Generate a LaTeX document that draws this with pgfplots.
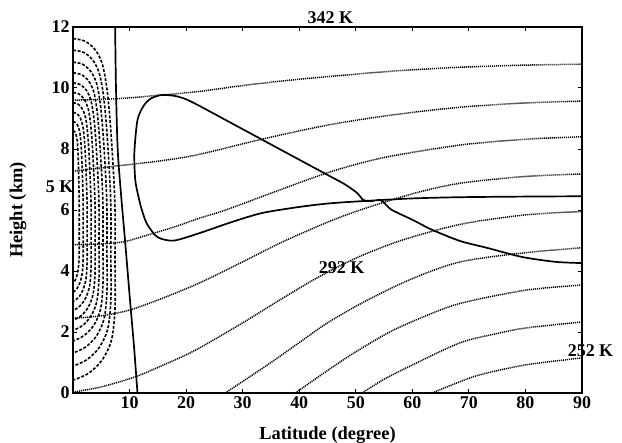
\documentclass[border=0pt]{standalone}
\usepackage{fontspec}
\setmainfont{Liberation Serif}
\usepackage{pgfplots}
\pgfplotsset{compat=1.18}
\begin{document}
\begin{tikzpicture}
\begin{axis}[
 name=ax,
 scale only axis, width=509bp, height=366bp,
 xmin=0,xmax=90,ymin=0,ymax=12,
 xtick={10,20,...,90}, ytick={0,2,...,12},
 /pgf/number format/assume math mode=true,
 tick label style={font=\fontsize{18}{21}\selectfont\bfseries},
 label style={font=\fontsize{18.5}{22}\selectfont\bfseries},
 xlabel={Latitude (degree)}, ylabel={Height (km)},
 x label style={at={(axis description cs:0.5,-0.116)},anchor=center},
 y label style={at={(axis description cs:-0.108,0.5)},anchor=center},
 axis line style={line width=1.4pt},
 major tick length=4bp,
 tick style={line width=1pt, black},
 clip=false,
 dotline/.style={black, line width=1.5pt, dash pattern=on 1.1pt off 0.9pt, smooth},
 dashline/.style={black, line width=1.6pt, dash pattern=on 3pt off 1.7pt, smooth},
 solidline/.style={black, line width=1.7pt, smooth},
]
% isentropes (dotted)
\addplot[dotline] coordinates {(0,9.60) (8,9.65) (15,9.76) (22,9.88) (30,10.08) (38,10.25) (45.5,10.38) (57,10.56) (68.5,10.68) (80,10.75) (90,10.78)};
\addplot[dotline] coordinates {(0,7.27) (8,7.45) (15,7.60) (22,7.81) (33.6,8.33) (45.5,8.80) (57,9.13) (68.5,9.37) (80,9.51) (90,9.57)};
\addplot[dotline] coordinates {(0,4.86) (5,4.89) (9,4.96) (13.2,5.18) (18,5.45) (22.5,5.74) (27,6.0) (35,6.55) (45.5,7.25) (55,7.72) (68.5,8.13) (80,8.32) (90,8.40)};
\addplot[dotline] coordinates {(0,2.45) (5,2.53) (10,2.72) (16,3.12) (22.5,3.62) (30,4.3) (37,4.95) (45,5.6) (50,5.95) (54.8,6.24) (61,6.58) (68.5,6.88) (80,7.1) (90,7.18)};
\addplot[dotline] coordinates {(0,0.03) (5,0.2) (11,0.53) (16,0.92) (21.6,1.4) (30,2.3) (37,3.1) (43.4,3.8) (50,4.42) (58,5.0) (68.5,5.53) (80,5.84) (90,5.95)};
\addplot[dotline] coordinates {(26.9,0) (31,0.5) (35,1.0) (40,1.65) (45,2.3) (52,3.04) (60,3.75) (68.5,4.3) (80,4.6) (90,4.76)};
\addplot[dotline] coordinates {(39.3,0) (45.5,0.8) (50,1.35) (56,2.0) (62,2.5) (68.5,2.94) (80,3.37) (90,3.54)};
\addplot[dotline] coordinates {(51.1,0) (55,0.45) (60,0.92) (68.5,1.65) (75,1.95) (80,2.13) (90,2.33)};
\addplot[dotline] coordinates {(63.5,0) (67.6,0.31) (72,0.6) (80,0.92) (90,1.15)};
% dashed contours near the equator
\addplot[dashline] coordinates {(0,11.62) (2.08,11.54) (3.86,11.27) (5.13,10.82) (5.94,10.06) (6.54,8.97) (7.13,7.32) (7.43,6.02) (7.43,4.34) (7.43,2.77) (6.80,1.73) (5.10,1.07) (2.70,0.64) (0,0.42)};
\addplot[dashline] coordinates {(0,11.24) (1.88,11.17) (3.48,10.92) (4.62,10.50) (5.36,9.80) (5.90,8.78) (6.43,7.26) (6.7,6.06) (6.7,4.51) (6.7,3.06) (6.13,2.09) (4.60,1.48) (2.43,1.09) (0,0.88)};
\addplot[dashline] coordinates {(0,10.85) (1.68,10.78) (3.12,10.55) (4.14,10.17) (4.80,9.52) (5.28,8.59) (5.76,7.19) (6.0,6.08) (6.0,4.65) (6.0,3.31) (5.49,2.43) (4.12,1.86) (2.18,1.50) (0,1.31)};
\addplot[dashline] coordinates {(0,10.50) (1.48,10.44) (2.76,10.23) (3.66,9.88) (4.24,9.28) (4.66,8.41) (5.09,7.12) (5.3,6.10) (5.3,4.78) (5.3,3.55) (4.85,2.73) (3.64,2.21) (1.92,1.88) (0,1.70)};
\addplot[dashline] coordinates {(0,10.17) (1.29,10.11) (2.39,9.92) (3.17,9.59) (3.68,9.04) (4.05,8.25) (4.42,7.05) (4.6,6.11) (4.6,4.89) (4.6,3.76) (4.21,3.00) (3.16,2.52) (1.67,2.21) (0,2.05)};
\addplot[dashline] coordinates {(0,9.85) (1.09,9.80) (2.03,9.62) (2.69,9.32) (3.12,8.81) (3.43,8.08) (3.74,6.98) (3.9,6.12) (3.9,4.99) (3.9,3.95) (3.57,3.25) (2.68,2.81) (1.42,2.53) (0,2.38)};
\addplot[dashline] coordinates {(0,9.52) (0.90,9.47) (1.66,9.31) (2.21,9.04) (2.56,8.57) (2.82,7.90) (3.07,6.90) (3.2,6.11) (3.2,5.09) (3.2,4.13) (2.93,3.50) (2.20,3.10) (1.16,2.84) (0,2.70)};
\addplot[dashline] coordinates {(0,9.2) (0.70,9.16) (1.30,9.01) (1.73,8.76) (2.0,8.34) (2.2,7.73) (2.4,6.82) (2.5,6.10) (2.5,5.17) (2.5,4.30) (2.29,3.73) (1.72,3.36) (0.91,3.12) (0,3.0)};
\addplot[dashline] coordinates {(0,8.9) (0.50,8.86) (0.94,8.73) (1.24,8.50) (1.44,8.12) (1.58,7.57) (1.73,6.75) (1.8,6.10) (1.8,5.26) (1.8,4.48) (1.65,3.96) (1.23,3.62) (0.65,3.41) (0,3.3)};
\addplot[dashline] coordinates {(0,8.6) (0.31,8.57) (0.57,8.45) (0.76,8.25) (0.88,7.91) (0.97,7.42) (1.06,6.68) (1.1,6.10) (1.1,5.35) (1.1,4.65) (1.01,4.19) (0.75,3.89) (0.40,3.70) (0,3.6)};
% solid curves
\addplot[solidline] coordinates {(7.45,12) (7.6,10) (7.9,8) (8.5,6.5) (9.2,5) (10.1,3) (10.8,1.5) (11.4,0)};
\addplot[solidline, tension=0.45] coordinates {(90,4.26) (85.3,4.30) (79.4,4.46) (73.4,4.75) (68.5,4.98) (63.5,5.35) (60,5.68) (56.4,6.0) (55.2,6.2) (54.3,6.33) (52.5,6.29) (51.3,6.33) (50.3,6.55) (48,6.85) (45,7.15) (40,7.65) (33.4,8.31) (27,8.95) (22.5,9.40) (20,9.63) (18,9.74) (15.7,9.77) (13.8,9.66) (12.5,9.42) (11.4,8.95) (10.85,7.88) (11.0,7.0) (11.5,6.5) (12.1,6.05) (13.0,5.57) (14.5,5.18) (15.7,5.05) (18,5.0) (22.5,5.25) (28,5.6) (33.4,5.9) (40,6.1) (45.5,6.22) (52,6.3) (60,6.38) (68.5,6.42) (80,6.44) (90,6.45)};
% labels
\node[font=\fontsize{18}{21}\selectfont\bfseries] at (axis cs:45.5,12.32) {342 K};
\node[font=\fontsize{18}{21}\selectfont\bfseries, anchor=east, inner sep=0pt] at (axis cs:0.1,6.75) {5 K};
\node[font=\fontsize{18}{21}\selectfont\bfseries] at (axis cs:47.5,4.12) {292 K};
\node[font=\fontsize{18}{21}\selectfont\bfseries] at (axis cs:91.5,1.39) {252 K};
\end{axis}
\pgfresetboundingbox
\path (-73bp,-50bp) rectangle (549bp,393bp);
\end{tikzpicture}
\end{document}
